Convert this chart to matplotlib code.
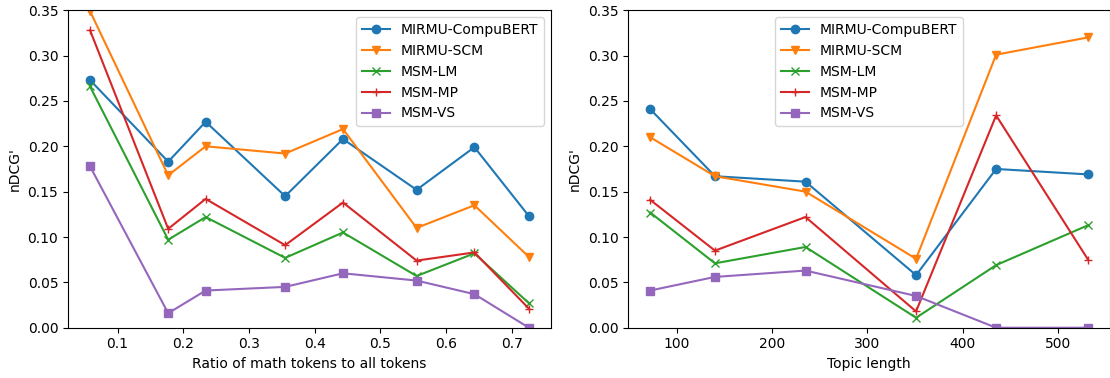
import matplotlib
matplotlib.use('Agg')
import matplotlib.pyplot as plt

# nDCG' per method, binned by ratio of math tokens
ratio = [0.058, 0.177, 0.234, 0.355, 0.443, 0.555, 0.643, 0.726]
ratio_compubert = [0.273, 0.183, 0.227, 0.145, 0.208, 0.152, 0.199, 0.123]
ratio_scm = [0.349, 0.168, 0.200, 0.192, 0.219, 0.110, 0.135, 0.078]
ratio_lm = [0.266, 0.097, 0.122, 0.077, 0.105, 0.057, 0.082, 0.027]
ratio_mp = [0.328, 0.109, 0.142, 0.091, 0.138, 0.074, 0.083, 0.021]
ratio_vs = [0.178, 0.016, 0.041, 0.045, 0.060, 0.052, 0.037, 0.0]

# nDCG' per method, binned by topic length
length = [72, 140, 235, 351, 435, 531.5]
len_compubert = [0.241, 0.167, 0.161, 0.058, 0.175, 0.169]
len_scm = [0.210, 0.167, 0.150, 0.076, 0.301, 0.320]
len_lm = [0.127, 0.071, 0.089, 0.011, 0.069, 0.113]
len_mp = [0.141, 0.085, 0.122, 0.018, 0.234, 0.075]
len_vs = [0.041, 0.056, 0.063, 0.035, 0.0, 0.0]

labels = ['MIRMU-CompuBERT', 'MIRMU-SCM', 'MSM-LM', 'MSM-MP', 'MSM-VS']
markers = ['o', 'v', 'x', '+', 's']

fig = plt.figure(figsize=(11.1, 3.78), dpi=100)
ax1 = fig.add_axes([0.0613, 0.133, 0.435, 0.840])
ax2 = fig.add_axes([0.566, 0.133, 0.434, 0.840])

for ys, lab, m in zip([ratio_compubert, ratio_scm, ratio_lm, ratio_mp, ratio_vs], labels, markers):
    ax1.plot(ratio, ys, marker=m, label=lab)
for ys, lab, m in zip([len_compubert, len_scm, len_lm, len_mp, len_vs], labels, markers):
    ax2.plot(length, ys, marker=m, label=lab)

ax1.set_ylim(0, 0.35)
ax2.set_ylim(0, 0.35)
ax1.set_xlabel('Ratio of math tokens to all tokens')
ax2.set_xlabel('Topic length')
ax1.set_ylabel("nDCG'")
ax2.set_ylabel("nDCG'")
ax1.legend(loc='upper right')
ax2.legend(loc='upper center')

fig.savefig('out.png')
